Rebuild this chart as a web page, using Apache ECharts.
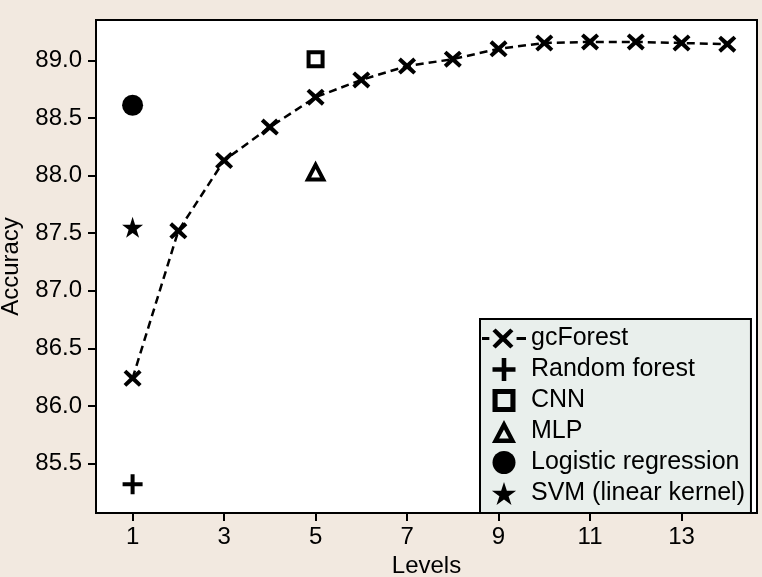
<!DOCTYPE html>
<html>
<head>
<meta charset="utf-8">
<script src="https://cdn.jsdelivr.net/npm/echarts@6/dist/echarts.min.js"></script>
<style>
  html, body { margin: 0; padding: 0; background: #f2e9e0; }
  #chart { width: 762px; height: 577px; }
</style>
</head>
<body>
<div id="chart"></div>
<script>
// data
const levels = [1, 2, 3, 4, 5, 6, 7, 8, 9, 10, 11, 12, 13, 14];
const gcForest = [86.24, 87.52, 88.13, 88.42, 88.68, 88.83, 88.95, 89.01, 89.10, 89.15, 89.16, 89.16, 89.15, 89.14];
const randomForest = [[1, 85.32]];
const cnn = [[5, 89.01]];
const mlp = [[5, 88.04]];
const logistic = [[1, 88.61]];
const svm = [[1, 87.55]];
const xTicks = [1, 3, 5, 7, 9, 11, 13];
const yTicks = [85.5, 86.0, 86.5, 87.0, 87.5, 88.0, 88.5, 89.0];

// marker shapes
const crossX = 'path://M0,3 L3,0 L10,6 L17,0 L20,3 L13.5,9 L20,15 L17,18 L10,12 L3,18 L0,15 L6.5,9 Z';
const plus = 'path://M8,0 H12 V8 H20 V12 H12 V20 H8 V12 H0 V8 H8 Z';
const star = 'path://M10,0 L12.25,6.91 L19.51,6.91 L13.63,11.18 L15.88,18.09 L10,13.82 L4.12,18.09 L6.37,11.18 L0.49,6.91 L7.75,6.91 Z';
const hollowSquare = 'path://M0,0 H18 V18 H0 Z M4,4 V14 H14 V4 Z';
const hollowTriangle = 'path://M11,0 L22,21 L0,21 Z M11,8.6 L6.6,17 L15.4,17 Z';
// legend icon for the dashed line with its cross
const gcIcon = 'path://M0,8 H7 V11 H0 Z M10,2.6 L13,0 L20,6.6 L27,0 L30,2.6 L23.2,9.5 L30,16.4 L27,19 L20,12.4 L13,19 L10,16.4 L16.8,9.5 Z M33,8 H42 V11 H33 Z';

const font = 'Liberation Sans, Arial, sans-serif';
const chart = echarts.init(document.getElementById('chart'));

const option = {
  animation: false,
  backgroundColor: '#f2e9e0',
  textStyle: { fontFamily: font, color: '#000' },
  grid: {
    left: 96, top: 20, right: 5, bottom: 64,
    outerBoundsMode: 'none',
    containLabel: false,
    show: true,
    backgroundColor: '#fff',
    borderColor: '#000',
    borderWidth: 2
  },
  legend: {
    orient: 'vertical',
    left: 480,
    top: 319,
    padding: [7, 6, 7, 2],
    backgroundColor: '#e9efec',
    borderColor: '#000',
    borderWidth: 2,
    itemWidth: 44,
    itemHeight: 23,
    itemGap: 6,
    textStyle: { fontSize: 25, lineHeight: 24, color: '#000', fontFamily: font },
    data: [
      { name: 'gcForest', icon: gcIcon },
      { name: 'Random forest', icon: plus },
      { name: 'CNN', icon: hollowSquare },
      { name: 'MLP', icon: hollowTriangle },
      { name: 'Logistic regression', icon: 'circle' },
      { name: 'SVM (linear kernel)', icon: star }
    ]
  },
  xAxis: {
    type: 'value',
    min: 0.2,
    max: 14.65,
    name: 'Levels',
    nameLocation: 'middle',
    nameGap: 33,
    nameTextStyle: { fontSize: 24, color: '#000', fontFamily: font },
    axisLine: { show: true, lineStyle: { color: '#000', width: 2 } },
    axisTick: { show: true, length: 8, lineStyle: { color: '#000', width: 2 }, customValues: xTicks },
    axisLabel: { fontSize: 24, color: '#000', margin: 12, customValues: xTicks },
    splitLine: { show: false }
  },
  yAxis: {
    type: 'value',
    min: 85.07,
    max: 89.35,
    name: 'Accuracy',
    nameLocation: 'middle',
    nameGap: 73,
    nameTextStyle: { fontSize: 24, color: '#000', fontFamily: font },
    axisLine: { show: true, lineStyle: { color: '#000', width: 2 } },
    axisTick: { show: true, length: 8, lineStyle: { color: '#000', width: 2 }, customValues: yTicks },
    axisLabel: {
      fontSize: 24, color: '#000', margin: 14, customValues: yTicks,
      formatter: function (v) { return v.toFixed(1); }
    },
    splitLine: { show: false }
  },
  series: [
    {
      name: 'gcForest',
      type: 'line',
      data: levels.map((l, i) => [l, gcForest[i]]),
      symbol: crossX,
      symbolSize: [18, 17],
      showAllSymbol: true,
      itemStyle: { color: '#000', opacity: 1 },
      lineStyle: { color: '#000', width: 2.5, type: [8, 5] },
      z: 3
    },
    {
      name: 'Random forest',
      type: 'scatter',
      data: randomForest,
      symbol: plus,
      symbolSize: 20,
      itemStyle: { color: '#000', opacity: 1 }
    },
    {
      name: 'CNN',
      type: 'scatter',
      data: cnn,
      symbol: hollowSquare,
      symbolSize: 18,
      itemStyle: { color: '#000', opacity: 1 }
    },
    {
      name: 'MLP',
      type: 'scatter',
      data: mlp,
      symbol: hollowTriangle,
      symbolSize: [22, 21],
      itemStyle: { color: '#000', opacity: 1 }
    },
    {
      name: 'Logistic regression',
      type: 'scatter',
      data: logistic,
      symbol: 'circle',
      symbolSize: 21,
      itemStyle: { color: '#000', opacity: 1 }
    },
    {
      name: 'SVM (linear kernel)',
      type: 'scatter',
      data: svm,
      symbol: star,
      symbolSize: 21,
      itemStyle: { color: '#000', opacity: 1 }
    }
  ]
};

chart.setOption(option);
</script>
</body>
</html>
